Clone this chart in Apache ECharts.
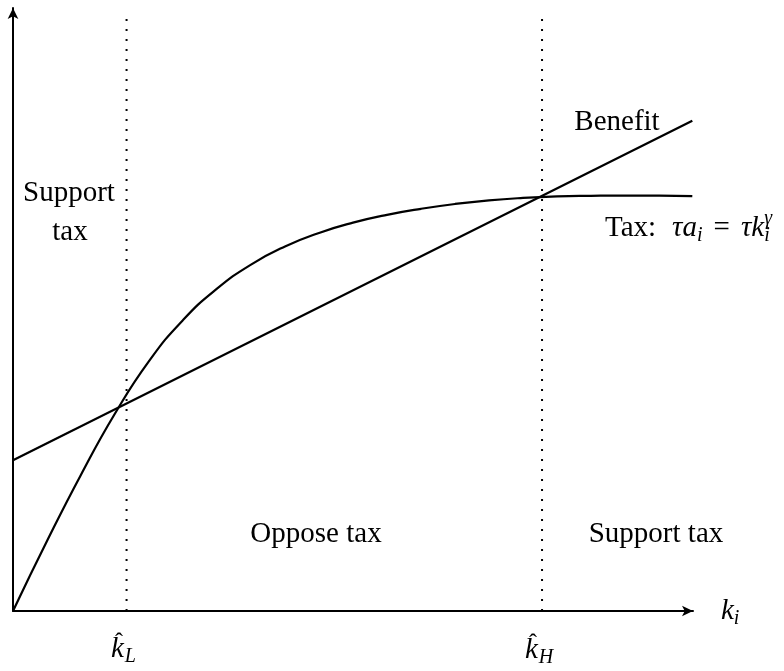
<!DOCTYPE html>
<html>
<head>
<meta charset="utf-8">
<script src="https://cdn.jsdelivr.net/npm/echarts@6/dist/echarts.min.js"></script>
<style>
html,body{margin:0;padding:0;background:#fff;}
#chart{width:784px;height:671px;}
</style>
</head>
<body>
<div id="chart"></div>
<script>
// ---- data ----
const kValues   = [0, 5, 10, 15, 20, 25, 30, 35, 40, 45, 50, 55, 60, 65, 70, 75, 80, 85, 90, 95, 99.9];
const taxValues = [0, 11.6, 22.6, 32.75, 41.45, 48.25, 53.45, 57.45, 60.45, 62.7, 64.4, 65.7, 66.7, 67.5, 68.1, 68.5, 68.75, 68.85, 68.9, 68.9, 68.8];
const benefitK      = [0, 99.9];
const benefitValues = [25.0, 81.3];
const thresholdK    = [16.7, 77.8];   // k_L hat, k_H hat
const dottedTop     = 98.8;
const axisMax       = [100, 100];

const FONT = '"Liberation Serif", "DejaVu Serif", serif';
const chart = echarts.init(document.getElementById('chart'));

const mctx = document.createElement('canvas').getContext('2d');
function measure(t, size, it) {
  mctx.font = (it ? 'italic ' : '') + size + 'px ' + FONT;
  return mctx.measureText(t).width;
}
function txt(t, x, baseY, size, it, align) {
  return {
    type: 'text', silent: true,
    style: {
      text: t, x: x, y: baseY - 0.30 * size,
      font: (it ? 'italic ' : '') + size + 'px ' + FONT,
      fill: '#000', align: align || 'left', verticalAlign: 'middle'
    }
  };
}
function mathRow(x, baseY, pieces) {
  const out = [];
  let cx = x;
  pieces.forEach(p => {
    const size = p.size || 29;
    cx += (p.pre || 0);
    out.push(txt(p.t, cx, baseY + (p.dy || 0), size, p.it, 'left'));
    if (!p.noAdvance) cx += measure(p.t, size, p.it);
  });
  return out;
}
function hatK(x, baseY, sub) {
  const kw = measure('k', 29, true);
  return [
    txt('k', x, baseY, 29, true),
    txt('\u02C6', x + kw * 0.62, baseY - 8, 24, false, 'center'),
    txt(sub, x + kw + 1, baseY + 5, 20, true)
  ];
}

const graphics = []
  .concat([
    txt('Support', 69, 202, 29, false, 'center'),
    txt('tax', 70, 241, 29, false, 'center'),
    txt('Benefit', 617, 131, 29, false, 'center'),
    txt('Oppose tax', 316, 543, 29, false, 'center'),
    txt('Support tax', 656, 543, 29, false, 'center')
  ])
  .concat(mathRow(605, 237, [
    {t: 'Tax:'},
    {t: '\u03C4', it: true, pre: 16},
    {t: 'a', it: true},
    {t: 'i', it: true, size: 20, dy: 5},
    {t: '=', pre: 11},
    {t: '\u03C4', it: true, pre: 11},
    {t: 'k', it: true},
    {t: '\u03B3', it: true, size: 20, dy: -12, noAdvance: true},
    {t: 'i', it: true, size: 20, dy: 5}
  ]))
  .concat(mathRow(721, 620, [
    {t: 'k', it: true},
    {t: 'i', it: true, size: 20, dy: 5}
  ]))
  .concat(hatK(111, 658, 'L'))
  .concat(hatK(525, 659, 'H'));

const axisLine = {
  show: true,
  symbol: ['none', 'arrow'],
  symbolSize: [8, 11],
  lineStyle: {color: '#000', width: 2}
};

const dotted = {color: '#000', width: 2, type: [2, 8]};

chart.setOption({
  animation: false,
  backgroundColor: '#fff',
  grid: {left: 13, right: 91, top: 8, bottom: 60},
  xAxis: {
    type: 'value', min: 0, max: axisMax[0],
    axisLine: axisLine, axisTick: {show: false}, axisLabel: {show: false}, splitLine: {show: false}
  },
  yAxis: {
    type: 'value', min: 0, max: axisMax[1],
    axisLine: axisLine, axisTick: {show: false}, axisLabel: {show: false}, splitLine: {show: false}
  },
  series: [
    {
      name: 'Tax', type: 'line', showSymbol: false, smooth: 0.5,
      data: kValues.map((k, i) => [k, taxValues[i]]),
      lineStyle: {color: '#000', width: 2.2}
    },
    {
      name: 'Benefit', type: 'line', showSymbol: false,
      data: benefitK.map((k, i) => [k, benefitValues[i]]),
      lineStyle: {color: '#000', width: 2.2}
    },
    {
      name: 'kL', type: 'line', showSymbol: false,
      data: [[thresholdK[0], 0], [thresholdK[0], dottedTop]],
      lineStyle: dotted
    },
    {
      name: 'kH', type: 'line', showSymbol: false,
      data: [[thresholdK[1], 0], [thresholdK[1], dottedTop]],
      lineStyle: dotted
    }
  ],
  graphic: graphics
});
</script>
</body>
</html>
